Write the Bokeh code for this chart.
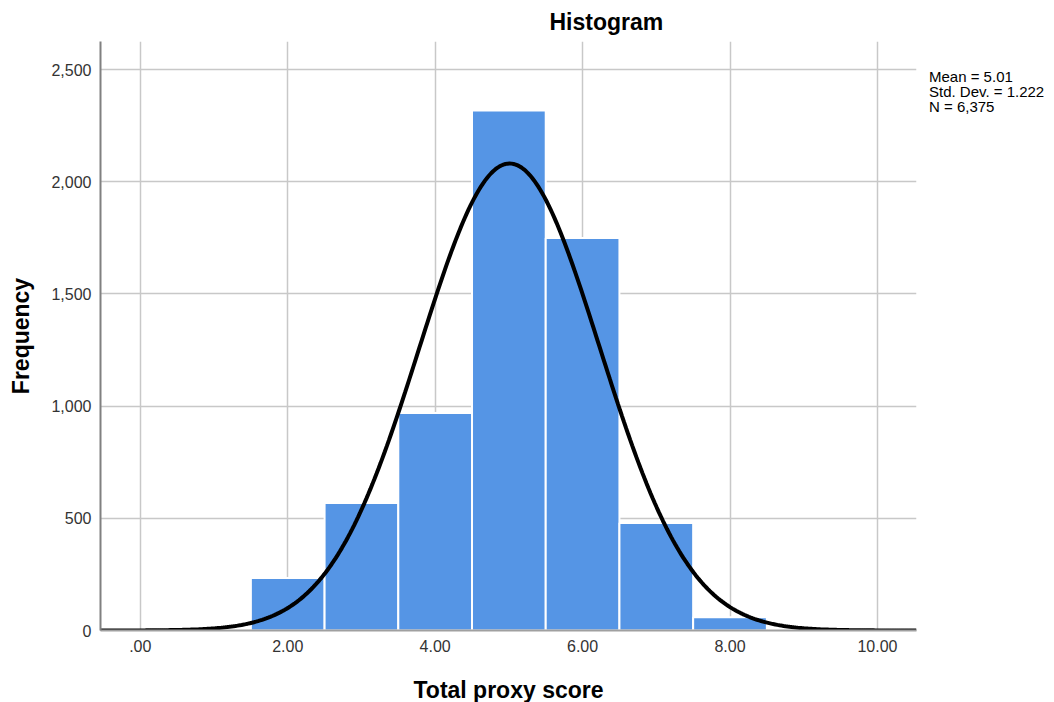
import numpy as np
from bokeh.plotting import figure
from bokeh.layouts import row
from bokeh.models import Range1d, FixedTicker, NumeralTickFormatter, ColumnDataSource, Div
from bokeh.embed import file_html
from bokeh.resources import INLINE

# ---- data ----
bin_centers = [2, 3, 4, 5, 6, 7, 8]
frequencies = [234, 568, 969, 2317, 1749, 479, 59]
x_ticks = [0, 2, 4, 6, 8, 10]
x_tick_labels = [".00", "2.00", "4.00", "6.00", "8.00", "10.00"]
y_ticks = [0, 500, 1000, 1500, 2000, 2500]
mean_val = 5.01
std_val = 1.222
n_val = 6375
bin_width = 1.0
stats_lines = ["Mean = 5.01", "Std. Dev. = 1.222", "N = 6,375"]

FONT = "Liberation Sans"

x0, x1 = -0.54, 10.53
p = figure(frame_width=816, frame_height=589, output_backend="svg", toolbar_location=None,
           x_range=Range1d(x0, x1), y_range=Range1d(0, 2625),
           min_border_left=100, min_border_right=4, min_border_top=39, min_border_bottom=60,
           title="Histogram")
p.outline_line_color = None
p.background_fill_color = "white"

p.title.text_font = FONT
p.title.text_font_size = "23px"
p.title.text_font_style = "bold"
p.title.text_color = "black"
p.title.align = "left"
p.title.offset = 449
p.title.standoff = 13

# grid
p.xgrid.ticker = FixedTicker(ticks=x_ticks)
p.ygrid.ticker = FixedTicker(ticks=y_ticks)
for g in (p.xgrid, p.ygrid):
    g.grid_line_color = "#c8c8c8"
    g.grid_line_width = 1.5

# axes
p.xaxis.ticker = FixedTicker(ticks=x_ticks)
p.xaxis.major_label_overrides = {t: l for t, l in zip(x_ticks, x_tick_labels)}
p.yaxis.ticker = FixedTicker(ticks=y_ticks)
p.yaxis.formatter = NumeralTickFormatter(format="0,0")
for ax in (p.xaxis, p.yaxis):
    ax.major_tick_line_color = None
    ax.minor_tick_line_color = None
    ax.major_label_text_font = FONT
    ax.major_label_text_font_size = "16px"
    ax.major_label_text_color = "#333333"
    ax.axis_label_text_font = FONT
    ax.axis_label_text_font_size = "23px"
    ax.axis_label_text_font_style = "bold"
    ax.axis_label_text_color = "black"
    ax.axis_line_width = 2
p.xaxis.axis_line_color = "#a0a0a0"
p.yaxis.axis_line_color = "#808080"
p.xaxis.axis_label = "Total proxy score"
p.yaxis.axis_label = "Frequency"
p.xaxis.major_label_standoff = 3
p.yaxis.major_label_standoff = 3
p.xaxis.axis_label_standoff = 22
p.yaxis.axis_label_standoff = 14

# bars
src = ColumnDataSource(dict(x=bin_centers, top=frequencies))
p.vbar(x="x", top="top", width=bin_width, bottom=0, source=src,
       fill_color="#5595e5", line_color="white", line_width=2)

# fitted normal curve from the displayed statistics
xs = np.linspace(x0, x1, 400)
ys = n_val * bin_width / (std_val * np.sqrt(2 * np.pi)) * np.exp(-0.5 * ((xs - mean_val) / std_val) ** 2)
p.line(xs, ys, line_color="black", line_width=4)

# stats box, to the right of the plot
stats_html = "<br>".join(stats_lines)
stats = Div(text=stats_html, width=118, height=300,
            styles={"font-family": FONT, "font-size": "15px", "line-height": "15px",
                    "color": "black", "padding-top": "64px", "padding-left": "4px",
                    "white-space": "nowrap"})

layout = row(p, stats)
open("out.html", "w").write(file_html(layout, INLINE))
